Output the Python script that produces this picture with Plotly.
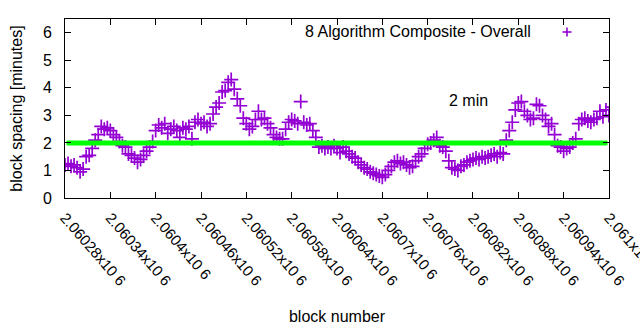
import plotly.graph_objects as go

# ---- data ----
block_start = 2060280
block_step = 4
spacing = [
    1.2, 1.25, 1.15, 1.2, 1.1, 0.95, 1.05, 1.5, 1.55, 1.8,
    2.1, 2.3, 2.6, 2.5, 2.55, 2.45, 2.3, 2.2, 2.05, 1.9,
    1.85, 1.6, 1.55, 1.45, 1.3, 1.4, 1.55, 1.7, 1.85, 2.05,
    2.45, 2.65, 2.55, 2.7, 2.35, 2.5, 2.6, 2.45, 2.2, 2.55,
    2.5, 2.6, 2.15, 2.75, 2.85, 2.7, 2.75, 2.6, 2.7, 3.05,
    3.3, 3.45, 3.85, 3.9, 4.2, 4.3, 3.95, 3.6, 3.35, 2.9,
    2.7, 2.5, 2.6, 2.85, 3.15, 2.85, 2.9, 2.7, 2.55, 2.3,
    2.2, 2.15, 2.15, 2.5, 2.75, 2.85, 2.8, 2.7, 3.5, 2.75,
    2.65, 2.7, 2.45, 2.2, 1.85, 1.9, 1.8, 1.85, 1.8, 1.9,
    1.8, 1.65, 1.85, 1.7, 1.6, 1.5, 1.45, 1.3, 1.2, 1.1,
    1.05, 0.95, 0.9, 0.85, 0.8, 0.75, 0.85, 1.0, 1.15, 1.3,
    1.35, 1.25, 1.3, 1.2, 1.1, 1.15, 1.35, 1.5, 1.6, 1.8,
    1.95, 2.0, 2.1, 2.2, 1.9, 1.85, 1.7, 1.35, 1.1, 1.05,
    1.0, 1.15, 1.2, 1.3, 1.35, 1.4, 1.45, 1.4, 1.5, 1.45,
    1.5, 1.55, 1.6, 1.5, 1.65, 1.6, 2.1, 2.45, 2.75, 3.2,
    3.45, 3.5, 3.15, 3.0, 2.85, 2.9, 3.4, 3.35, 3.0, 2.85,
    2.6, 2.7, 2.3, 1.9, 1.85, 1.7, 1.8, 1.85, 2.0, 2.15,
    2.7, 2.85, 2.9, 2.8, 2.75, 2.85, 2.9, 3.15, 2.95, 3.2,
    3.0, 3.3,
]
blocks = [block_start + block_step * i for i in range(len(spacing))]

ref_x = [2060282, 2060998]
ref_y = [2, 2]

x_range = [2060280, 2061000.01]
x_tickvals = list(range(2060280, 2061001, 60))
x_ticktext = ["2.06028x10 6", "2.06034x10 6", "2.0604x10 6", "2.06046x10 6",
              "2.06052x10 6", "2.06058x10 6", "2.06064x10 6", "2.0607x10 6",
              "2.06076x10 6", "2.06082x10 6", "2.06088x10 6", "2.06094x10 6",
              "2.061x10 6"]
y_tickvals = [0, 1, 2, 3, 4, 5, 6]

series_name = "8 Algorithm Composite - Overall"
PURPLE = "#9400D3"
FONT = "Liberation Sans, Arial, sans-serif"

fig = go.Figure()
fig.add_trace(go.Scatter(
    x=blocks, y=spacing, mode="markers", name=series_name,
    marker=dict(symbol="cross-thin-open", size=10, color=PURPLE,
                line=dict(color=PURPLE, width=1.7)),
    showlegend=False, cliponaxis=True,
))
fig.add_trace(go.Scatter(
    x=ref_x, y=ref_y, mode="lines", line=dict(color="#00FF00", width=5),
    showlegend=False,
))

fig.add_annotation(x=2060785, y=3.55, xref="x", yref="y", text="2 min",
                   showarrow=False, xanchor="left", yanchor="middle",
                   font=dict(size=16, color="black", family=FONT))

# legend (gnuplot style: text then sample on the right)
fig.add_annotation(x=(533 - 65) / 544, y=(198 - 32) / 179, xref="paper", yref="paper",
                   text=series_name, showarrow=False, xanchor="right", yanchor="middle",
                   font=dict(size=16, color="black", family=FONT))
cx, cy = (567 - 65) / 544, (198 - 32) / 179
hx, hy = 4.5 / 544, 4.5 / 179
fig.add_shape(type="line", xref="paper", yref="paper", x0=cx - hx, x1=cx + hx,
              y0=cy, y1=cy, line=dict(color=PURPLE, width=1.6))
fig.add_shape(type="line", xref="paper", yref="paper", x0=cx, x1=cx,
              y0=cy - hy, y1=cy + hy, line=dict(color=PURPLE, width=1.6))

fig.update_layout(
    width=640, height=330,
    margin=dict(l=65, r=31, t=19, b=132, autoexpand=False),
    paper_bgcolor="white", plot_bgcolor="white",
    font=dict(family=FONT, size=16, color="black"),
    xaxis=dict(range=x_range, tickvals=x_tickvals, ticktext=x_ticktext,
               tickangle=49, ticks="inside", ticklen=6, tickcolor="black",
               showline=True, linecolor="black", linewidth=1, mirror="ticks",
               showgrid=False, zeroline=False, ticklabeloverflow="allow",
               automargin=False,
               tickfont=dict(size=15), ticklabelstandoff=4,
               title=dict(text="block number", font=dict(size=16), standoff=22)),
    yaxis=dict(range=[0, 6.5], tickvals=y_tickvals, ticks="inside", ticklen=6,
               tickcolor="black", showline=True, linecolor="black", linewidth=1,
               mirror="ticks", showgrid=False, zeroline=False, automargin=False,
               tickfont=dict(size=16), ticklabelstandoff=9,
               title=dict(text="block spacing [minutes]", font=dict(size=16),
                          standoff=16)),
)

fig.write_html("out.html")
